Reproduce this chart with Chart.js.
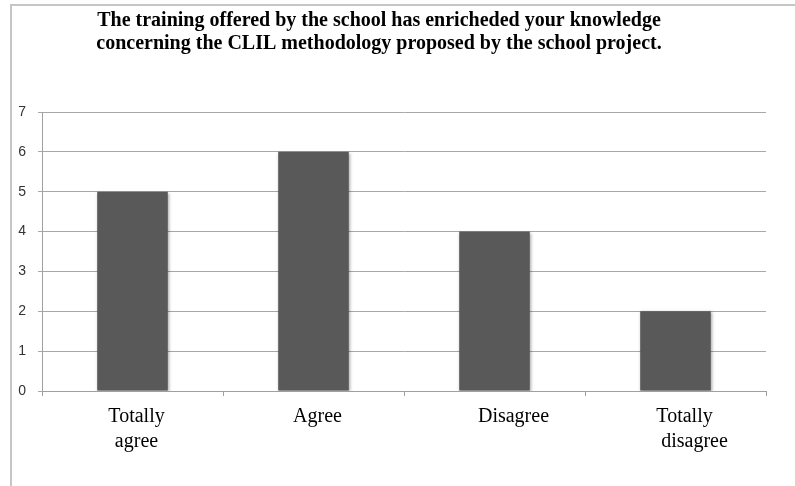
<!DOCTYPE html>
<html>
<head>
<meta charset="utf-8">
<script src="https://cdn.jsdelivr.net/npm/chart.js@4.4.1/dist/chart.umd.min.js"></script>
<style>
  body { margin: 0; background: #fff; }
  #wrap { position: relative; width: 795px; height: 486px; }
  #frame { position: absolute; left: 10px; top: 4px; right: 0; bottom: 0;
           border-left: 2px solid #c6c6c6; border-top: 2px solid #c6c6c6; pointer-events: none; }
</style>
</head>
<body>
<div id="wrap">
  <canvas id="surveyChart" width="795" height="486"></canvas>
  <div id="frame"></div>
</div>
<script>
// answers to the survey question
const categories = [['Totally', 'agree'], 'Agree', '      Disagree', ['  Totally', '      disagree']];
const counts = [5, 6, 4, 2];
const yTicks = [0, 1, 2, 3, 4, 5, 6, 7];

const titleLines = [
    'The training offered by the school has enricheded your knowledge',
    'concerning the CLIL methodology proposed by the school project.'
];

// title drawn by hand so it sits where the original has it
const chartTitle = {
    id: 'chartTitle',
    afterDraw(chart) {
        const ctx = chart.ctx;
        ctx.save();
        ctx.fillStyle = '#000';
        ctx.font = 'bold 20px "Liberation Serif"';
        ctx.textAlign = 'center';
        ctx.textBaseline = 'alphabetic';
        titleLines.forEach((line, i) => {
            ctx.fillText(line, 379, 26 + i * 23);
        });
        ctx.restore();
    }
};

// soft edge round the bars, like the original
const barShadow = {
    id: 'barShadow',
    beforeDatasetsDraw(chart) {
        const ctx = chart.ctx;
        ctx.save();
        ctx.shadowColor = 'rgba(0,0,0,0.35)';
        ctx.shadowBlur = 3;
        ctx.shadowOffsetX = 1;
        ctx.shadowOffsetY = 1;
    },
    afterDatasetsDraw(chart) {
        chart.ctx.restore();
    }
};

document.addEventListener('DOMContentLoaded', () => {
    const ctx = document.getElementById('surveyChart').getContext('2d');

    new Chart(ctx, {
        type: 'bar',
        data: {
            labels: categories,
            datasets: [{
                data: counts,
                backgroundColor: '#595959',
                borderWidth: 0,
                barPercentage: 0.39,
                categoryPercentage: 1
            }]
        },
        options: {
            responsive: false,
            animation: false,
            layout: { padding: { left: 0, right: 29, top: 112, bottom: 0 } },
            plugins: {
                legend: { display: false },
                tooltip: { enabled: false },
                title: { display: false }
            },
            scales: {
                y: {
                    min: 0,
                    max: 7,
                    afterBuildTicks(axis) {
                        axis.ticks = yTicks.map(v => ({ value: v }));
                    },
                    afterFit(axis) { axis.width = 42; },
                    border: { display: true, color: '#a0a0a0', width: 1 },
                    grid: { color: '#a8a8a8', lineWidth: 1, tickLength: 4 },
                    ticks: {
                        color: '#333',
                        padding: 12,
                        font: { family: 'Liberation Sans', size: 14 }
                    }
                },
                x: {
                    afterFit(axis) { axis.height = 95; },
                    border: { display: true, color: '#a0a0a0', width: 1 },
                    grid: { display: true, drawOnChartArea: false, offset: true, color: '#a0a0a0', tickLength: 5 },
                    ticks: {
                        color: '#000',
                        padding: 8,
                        labelOffset: 4,
                        maxRotation: 0,
                        font: { family: 'Liberation Serif', size: 20, lineHeight: 1.25 }
                    }
                }
            }
        },
        plugins: [barShadow, chartTitle]
    });
});
</script>
</body>
</html>
